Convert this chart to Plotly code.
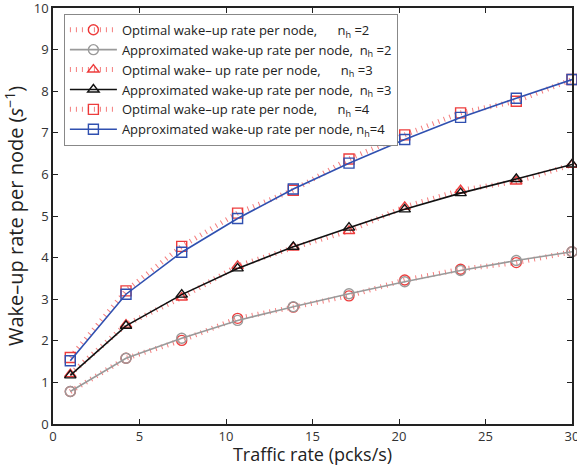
import plotly.graph_objects as go

traffic = [1, 4.22, 7.44, 10.67, 13.89, 17.11, 20.33, 23.56, 26.78, 30]

opt_nh2 = [0.78, 1.58, 2.01, 2.54, 2.81, 3.08, 3.46, 3.72, 3.88, 4.14]
apx_nh2 = [0.78, 1.58, 2.06, 2.49, 2.82, 3.13, 3.42, 3.69, 3.93, 4.14]
opt_nh3 = [1.20, 2.39, 3.04, 3.80, 4.24, 4.64, 5.22, 5.62, 5.83, 6.23]
apx_nh3 = [1.17, 2.36, 3.11, 3.74, 4.26, 4.72, 5.16, 5.55, 5.89, 6.24]
opt_nh4 = [1.60, 3.20, 4.27, 5.07, 5.62, 6.37, 6.95, 7.48, 7.76, 8.28]
apx_nh4 = [1.52, 3.12, 4.13, 4.94, 5.65, 6.27, 6.84, 7.37, 7.83, 8.28]

x_ticks = [0, 5, 10, 15, 20, 25, 30]
y_ticks = list(range(0, 11))

NB = "\u00a0"
names = [
    "Optimal wake\u2013up rate per node," + NB * 5 + " n<sub>h</sub> =2",
    "Approximated wake-up rate per node," + NB + " n<sub>h</sub> =2",
    "Optimal wake\u2013 up rate per node," + NB * 5 + " n<sub>h</sub> =3",
    "Approximated wake-up rate per node," + NB + " n<sub>h</sub> =3",
    "Optimal wake\u2013up rate per node," + NB * 5 + " n<sub>h</sub> =4",
    "Approximated wake-up rate per node, n<sub>h</sub>=4",
]

RED = "rgba(235,40,40,0.9)"
RED_LINE = "rgba(240,80,80,0.75)"
series = [
    (opt_nh2, "opt", "circle-open"),
    (apx_nh2, "#9a9a9a", "circle-open"),
    (opt_nh3, "opt", "triangle-up-open"),
    (apx_nh3, "#111111", "triangle-up-open"),
    (opt_nh4, "opt", "square-open"),
    (apx_nh4, "#3050b0", "square-open"),
]

fig = go.Figure()
for (vals, col, sym), name in zip(series, names):
    if col == "opt":
        line = dict(color=RED_LINE, width=5, dash="1px,5px")
        marker = dict(symbol=sym, size=10, color=RED, line=dict(color=RED, width=1.4))
    else:
        line = dict(color=col, width=1.6)
        marker = dict(symbol=sym, size=10, color=col, line=dict(color=col, width=1.4))
    fig.add_trace(go.Scatter(x=traffic, y=vals, mode="lines+markers", name=name,
                             line=line, marker=marker, cliponaxis=False))

axis_common = dict(
    showline=True, linecolor="#222222", linewidth=1.5, mirror="ticks",
    ticks="inside", ticklen=5, tickwidth=1, tickcolor="#222222",
    showgrid=False, zeroline=False, automargin=False,
    ticklabeloverflow="allow",
    tickfont=dict(size=13, color="#333333"),
)

fig.update_layout(
    width=577, height=466,
    margin=dict(l=53, r=5, t=8, b=42),
    paper_bgcolor="white", plot_bgcolor="white",
    font=dict(family="Open Sans, Lato, sans-serif", color="#222222"),
    showlegend=True,
    legend=dict(
        x=0.021, y=0.986, xanchor="left", yanchor="top",
        bgcolor="white", bordercolor="#888888", borderwidth=1,
        font=dict(size=13, color="#222222"),
        tracegroupgap=0, itemwidth=47,
    ),
    xaxis=dict(
        range=[0, 30], tickvals=x_ticks,
        title=dict(text="Traffic rate (pcks/s)", font=dict(size=18, color="#222222"), standoff=1),
        **axis_common,
    ),
    yaxis=dict(
        range=[0, 10], tickvals=y_ticks,
        title=dict(text="Wake\u2013up rate per node (<i>s</i><sup>\u22121</sup>)",
                   font=dict(size=20, color="#222222"), standoff=5),
        **axis_common,
    ),
)

fig.write_html("out.html",
               config={"displayModeBar": False},
               post_script="document.body.style.margin='0';document.body.style.padding='0';")
